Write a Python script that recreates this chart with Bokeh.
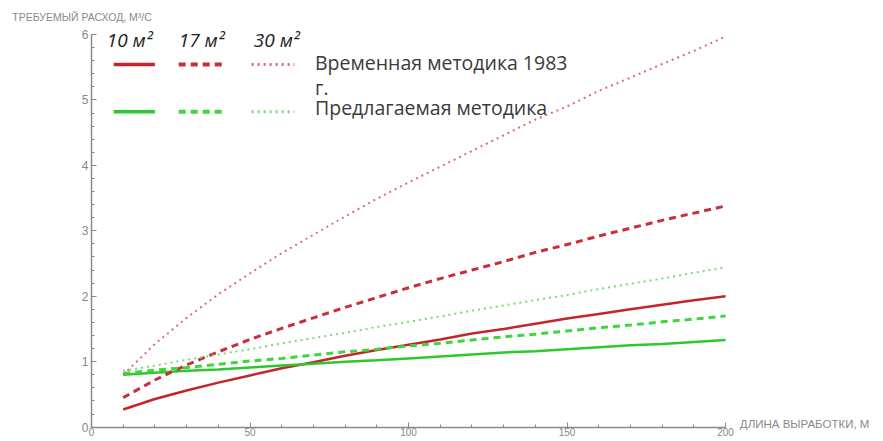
from bokeh.plotting import figure
from bokeh.models import Label, Range1d, FixedTicker
from bokeh.embed import file_html
from bokeh.resources import INLINE

# ---- data ----
length_m = [10, 20, 30, 40, 50, 60, 70, 80, 90, 100,
            110, 120, 130, 140, 150, 160, 170, 180, 190, 200]

old_10 = [0.27, 0.43, 0.56, 0.68, 0.79, 0.90, 0.99, 1.09, 1.18, 1.26,
          1.34, 1.43, 1.50, 1.58, 1.66, 1.73, 1.80, 1.87, 1.94, 2.00]
old_17 = [0.45, 0.72, 0.95, 1.15, 1.34, 1.51, 1.67, 1.83, 1.98, 2.13,
          2.27, 2.40, 2.53, 2.67, 2.79, 2.92, 3.04, 3.16, 3.27, 3.38]
old_30 = [0.80, 1.27, 1.67, 2.03, 2.35, 2.66, 2.94, 3.22, 3.49, 3.74,
          3.98, 4.22, 4.46, 4.70, 4.90, 5.14, 5.34, 5.55, 5.75, 5.97]

new_10 = [0.80, 0.83, 0.86, 0.88, 0.91, 0.94, 0.97, 1.00, 1.02, 1.05,
          1.08, 1.11, 1.14, 1.16, 1.19, 1.22, 1.25, 1.27, 1.30, 1.33]
new_17 = [0.82, 0.87, 0.91, 0.96, 1.01, 1.05, 1.10, 1.15, 1.19, 1.24,
          1.28, 1.33, 1.38, 1.42, 1.47, 1.52, 1.56, 1.61, 1.65, 1.70]
new_30 = [0.86, 0.94, 1.03, 1.11, 1.19, 1.28, 1.36, 1.44, 1.53, 1.61,
          1.69, 1.78, 1.86, 1.94, 2.02, 2.11, 2.19, 2.27, 2.36, 2.44]

x_ticks = [0, 50, 100, 150, 200]
y_ticks = [0, 1, 2, 3, 4, 5, 6]

section_labels = ["10 м²", "17 м²", "30 м²"]
method_labels = ["Временная методика 1983", "г.", "Предлагаемая методика"]
x_title = "ДЛИНА ВЫРАБОТКИ, М"
y_title = "ТРЕБУЕМЫЙ РАСХОД, М³/С"

RED = ["#c3252d", "#c92f3a", "#db6a80"]
GREEN = ["#2ec82e", "#3dd63d", "#78da78"]
DASH = ["solid", "7 5", "2 4"]
WIDTH = [2.5, 3, 2]

# whole canvas is the plotting frame; axes are pinned at 0
p = figure(width=883, height=441, output_backend="svg", toolbar_location=None,
           x_range=Range1d(-28.7, 249.8), y_range=Range1d(-0.22, 6.52),
           min_border=0)
p.outline_line_color = None
p.xgrid.visible = False
p.ygrid.visible = False
p.background_fill_color = "white"
p.border_fill_color = "white"

for ax in (p.xaxis[0], p.yaxis[0]):
    ax.fixed_location = 0
    ax.axis_line_color = "#8a8a8a"
    ax.axis_line_width = 1.5
    ax.major_tick_line_color = "#8a8a8a"
    ax.minor_tick_line_color = "#8a8a8a"
    ax.major_tick_in = 5
    ax.major_tick_out = 0
    ax.minor_tick_in = 3
    ax.minor_tick_out = 0
    ax.major_label_text_color = "#888888"
    ax.major_label_text_font = "Liberation Sans"
    ax.major_label_text_font_size = "12px"
    ax.major_label_standoff = 3

p.xaxis[0].major_label_text_font_size = "10px"
p.xaxis[0].major_label_standoff = 1
p.xaxis[0].bounds = (0, 200)
p.yaxis[0].bounds = (0, 6)
p.xaxis[0].ticker = FixedTicker(ticks=x_ticks, minor_ticks=list(range(0, 201, 10)))
p.yaxis[0].ticker = FixedTicker(ticks=y_ticks, minor_ticks=[i / 5 for i in range(0, 31)])

old_series = [old_10, old_17, old_30]
new_series = [new_10, new_17, new_30]
for i in range(3):
    p.line(length_m, old_series[i], line_color=RED[i], line_width=WIDTH[i],
           line_dash=DASH[i])
    p.line(length_m, new_series[i], line_color=GREEN[i], line_width=WIDTH[i],
           line_dash=DASH[i])

# ---- hand-built legend ----
seg_x0 = [7, 27.5, 50.5]
seg_x1 = [20, 42, 64]
row_y = [5.54, 4.82]
head_x = [4.8, 27.5, 51.2]
for i in range(3):
    p.segment(x0=[seg_x0[i]], x1=[seg_x1[i]], y0=[row_y[0]], y1=[row_y[0]],
              line_color=RED[i], line_width=WIDTH[i] + 1, line_dash=DASH[i])
    p.segment(x0=[seg_x0[i]], x1=[seg_x1[i]], y0=[row_y[1]], y1=[row_y[1]],
              line_color=GREEN[i], line_width=WIDTH[i] + 1, line_dash=DASH[i])
    p.add_layout(Label(x=head_x[i], y=5.92, text=section_labels[i],
                       text_font="Open Sans", text_font_style="italic",
                       text_font_size="19px", text_color="#222222",
                       text_baseline="middle", text_align="left"))

text_y = [5.57, 5.19, 4.885]
for t, yy in zip(method_labels, text_y):
    p.add_layout(Label(x=70.5, y=yy, text=t, text_font="Open Sans",
                       text_font_size="19.5px", text_color="#3a3a3a",
                       text_baseline="middle", text_align="left"))

p.add_layout(Label(x=204.5, y=0.04, text=x_title,
                   text_font="Liberation Sans", text_font_size="11.5px",
                   text_color="#8a8a8a", text_baseline="middle"))
p.add_layout(Label(x=-25, y=6.27, text=y_title,
                   text_font="Liberation Sans", text_font_size="10.5px",
                   text_color="#8a8a8a", text_baseline="middle"))

open("out.html", "w").write(file_html(p, INLINE))
